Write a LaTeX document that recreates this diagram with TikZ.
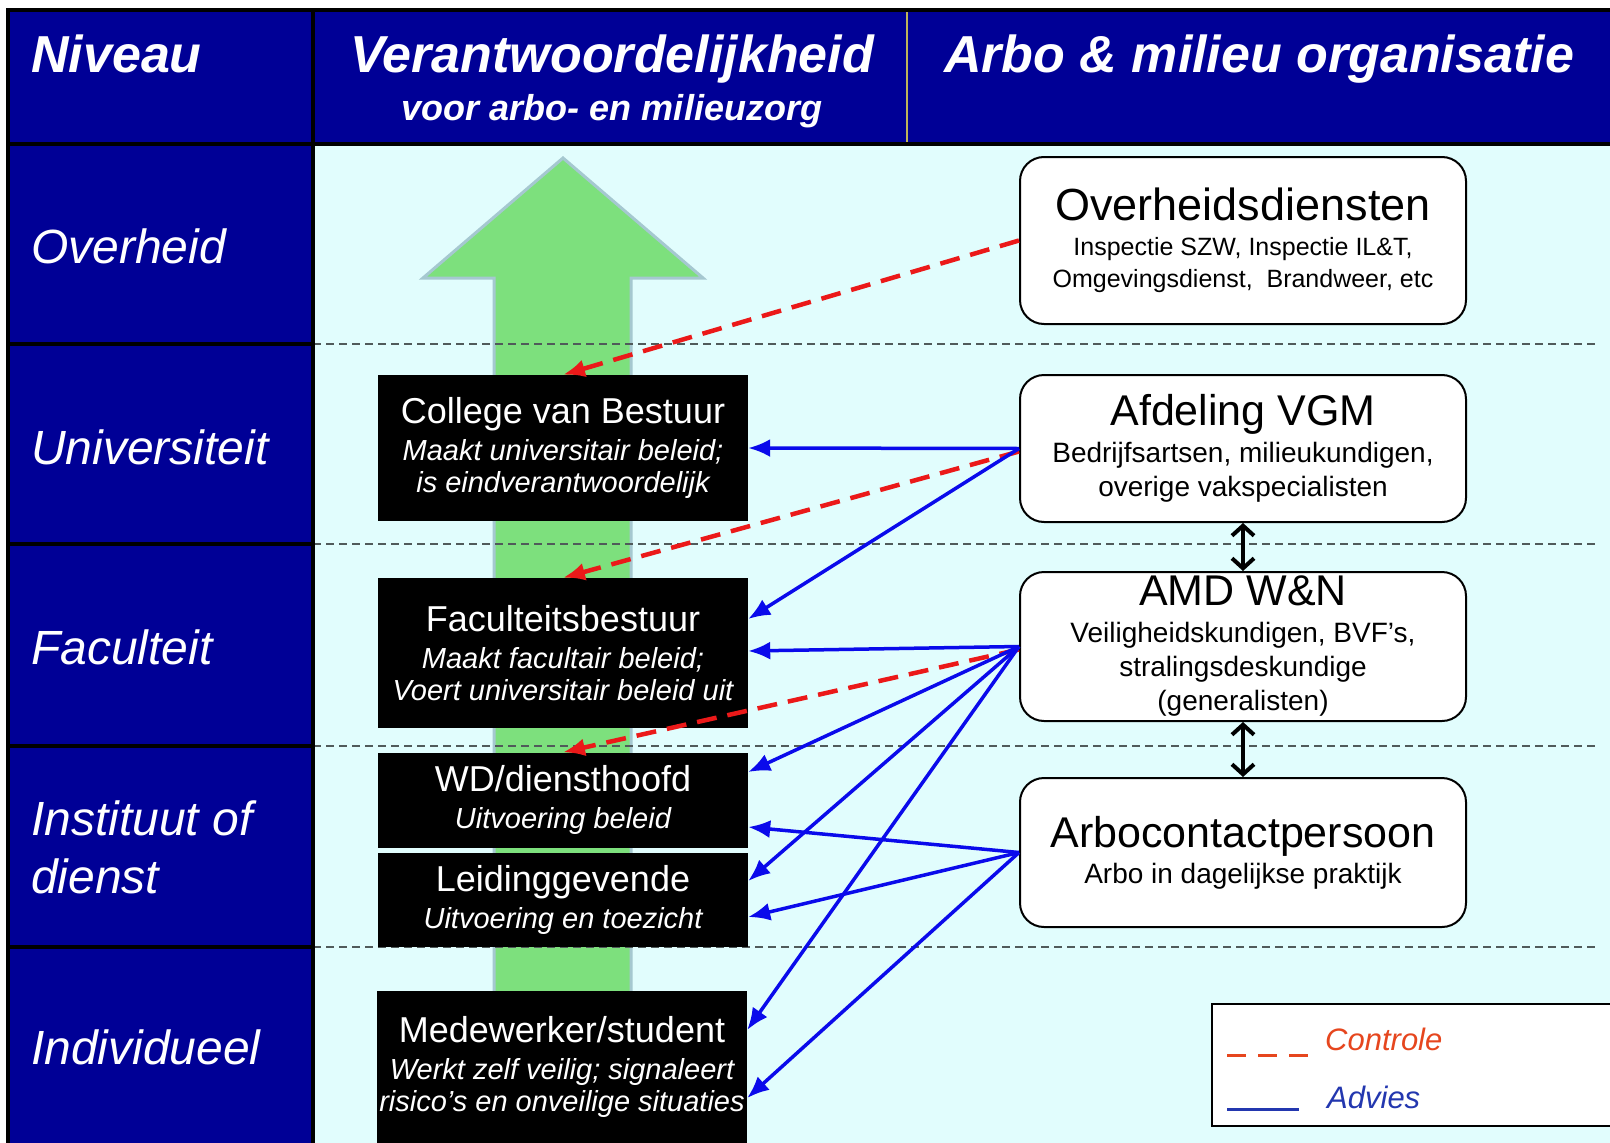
\documentclass[tikz,border=0pt]{standalone}
\usepackage{fontspec}
\setmainfont{Liberation Sans}
\usepackage{tikz}
\usetikzlibrary{arrows.meta,positioning,calc}
\definecolor{navyband}{RGB}{0,0,150}
\definecolor{paleground}{RGB}{225,253,253}
\definecolor{arrowgreen}{RGB}{125,224,125}
\definecolor{arrowedge}{RGB}{165,200,208}
\definecolor{controlred}{RGB}{235,25,25}
\definecolor{adviceblue}{RGB}{10,10,235}
\definecolor{levelgrey}{RGB}{80,90,90}
\definecolor{keyred}{RGB}{230,70,30}
\definecolor{keyblue}{RGB}{35,55,175}
\definecolor{dividergold}{RGB}{190,180,90}
\newcommand{\headsize}{\fontsize{52}{58}\selectfont}
\newcommand{\roletitle}{\upshape\fontsize{36}{40}\selectfont}
\newcommand{\orgtitle}{\fontsize{43}{48}\selectfont}
\tikzset{
  frameline/.style={draw=black,line width=4pt},
  levelline/.style={draw=levelgrey,line width=1.5pt,dash pattern=on 8pt off 5pt},
  uparrow/.style={fill=arrowgreen,draw=arrowedge,line width=3pt,line join=miter},
  headlabel/.style={text=white,font=\headsize\bfseries\itshape,inner sep=0pt,anchor=base},
  levellabel/.style={anchor=west,text=white,align=left,inner sep=0pt,
    font=\fontsize{48}{58}\selectfont\itshape},
  rolebox/.style={fill=black,text=white,align=center,minimum width=370pt,
    inner sep=0pt,font=\fontsize{29}{32}\selectfont\itshape},
  orgbox/.style={draw=black,line width=2pt,fill=white,rounded corners=24pt,
    minimum width=446pt,inner sep=0pt,align=center},
  controlarrow/.style={draw=controlred,line width=4.5pt,dash pattern=on 20pt off 11pt,
    -{Latex[length=22pt,width=18pt]}},
  advicearrow/.style={draw=adviceblue,line width=3.5pt,-{Latex[length=22pt,width=18pt]}},
  linkarrow/.style={draw=black,line width=4pt,
    {Straight Barb[length=10pt,width=22pt]}-{Straight Barb[length=10pt,width=22pt]}},
  legendbox/.style={draw=black,line width=1.5pt,fill=white,minimum width=408pt,
    minimum height=122pt,inner sep=0pt},
  keylabel/.style={anchor=west,inner sep=0pt,font=\fontsize{31}{36}\selectfont\itshape}
}

\begin{document}
\begin{tikzpicture}[x=1pt,y=-1pt]
  \useasboundingbox (0,0) rectangle (1610,1143);
  \fill[white] (0,0) rectangle (1610,1143);
  \fill[paleground] (313,144) rectangle (1610,1143);
  \draw[uparrow] (563,158) -- (703,278) -- (631,278) -- (631,1000) -- (494,1000) -- (494,278) -- (423,278) -- cycle;
  \draw[levelline] (313,344) -- (1597,344);
  \draw[levelline] (313,544) -- (1597,544);
  \draw[levelline] (313,746) -- (1597,746);
  \draw[levelline] (313,947) -- (1597,947);
  \fill[navyband] (8,10) rectangle (1610,144);
  \fill[navyband] (8,144) rectangle (313,1143);
  \draw[dividergold,line width=1.5pt] (907,12) -- (907,142);
  \draw[frameline] (1610,10) -- (8,10) -- (8,1143);
  \draw[frameline] (8,144) -- (1610,144);
  \draw[frameline] (313,10) -- (313,1143);
  \draw[frameline] (8,344) -- (313,344);
  \draw[frameline] (8,544) -- (313,544);
  \draw[frameline] (8,746) -- (313,746);
  \draw[frameline] (8,947) -- (313,947);
  \node[headlabel,anchor=base west] (niveauhead) at (31,72) {Niveau};
  \node[headlabel] (verantwhead) at (612,72) {Verantwoordelijkheid};
  \node[headlabel,font=\fontsize{36}{40}\selectfont\bfseries\itshape] (verantwsub) at (612,120) {voor arbo- en milieuzorg};
  \node[headlabel] (orghead) at (1259,72) {Arbo \& milieu organisatie};
  \node[levellabel] (lvloverheid) at (31,246) {Overheid};
  \node[levellabel] (lvluniv) at (31,447) {Universiteit};
  \node[levellabel] (lvlfac) at (31,647) {Faculteit};
  \node[levellabel] (lvlinst) at (31,847) {Instituut of\\dienst};
  \node[levellabel] (lvlindiv) at (31,1047) {Individueel};
  \node[rolebox,minimum height=146pt] (cvb) at (563,448) {{\roletitle College van Bestuur}\\[5pt]Maakt universitair beleid;\\is eindverantwoordelijk};
  \node[rolebox,minimum height=150pt] (fb) at (563,653) {{\roletitle Faculteitsbestuur}\\[5pt]Maakt facultair beleid;\\Voert universitair beleid uit};
  \node[rolebox,minimum height=95pt] (wd) at (563,800) {{\roletitle WD/diensthoofd}\\[5pt]Uitvoering beleid};
  \node[rolebox,minimum height=94pt] (lg) at (563,900) {{\roletitle Leidinggevende}\\[5pt]Uitvoering en toezicht};
  \node[rolebox,minimum height=152pt] (mw) at (562,1067) {{\roletitle Medewerker/student}\\[5pt]Werkt zelf veilig; signaleert\\risico’s en onveilige situaties};
  \node[orgbox,minimum height=167pt,font=\fontsize{25}{32}\selectfont] (ovd) at (1243,240.5) {{\fontsize{45}{50}\selectfont Overheidsdiensten}\\[3pt]Inspectie SZW, Inspectie IL\&T,\\Omgevingsdienst, \ Brandweer, etc};
  \node[orgbox,minimum height=147pt,font=\fontsize{28}{34}\selectfont] (vgm) at (1243,448.5) {{\orgtitle Afdeling VGM}\\[3pt]Bedrijfsartsen, milieukundigen,\\overige vakspecialisten};
  \node[orgbox,minimum height=149pt,font=\fontsize{28}{34}\selectfont] (amd) at (1243,646.5) {{\orgtitle AMD W\&N}\\[3pt]Veiligheidskundigen, BVF’s,\\stralingsdeskundige\\(generalisten)};
  \node[orgbox,minimum height=149pt,font=\fontsize{28}{34}\selectfont] (acp) at (1243,852.5) {{\orgtitle Arbocontactpersoon}\\[2pt]Arbo in dagelijkse praktijk};
  \draw[linkarrow] (vgm.south) -- (amd.north);
  \draw[linkarrow] (amd.south) -- (acp.north);
  \draw[controlarrow] (ovd.west) -- (cvb.north);
  \draw[controlarrow] ([yshift=-3pt]vgm.west) -- (fb.north);
  \draw[controlarrow] ([yshift=-3pt]amd.west) -- (wd.north);
  \draw[advicearrow] (vgm.west) -- (cvb.east);
  \draw[advicearrow] (vgm.west) -- ([yshift=34pt]fb.east);
  \draw[advicearrow] (amd.west) -- ([yshift=2pt]fb.east);
  \draw[advicearrow] (amd.west) -- ([yshift=28pt]wd.east);
  \draw[advicearrow] (amd.west) -- ([yshift=19pt]lg.east);
  \draw[advicearrow] (amd.west) -- ([yshift=37pt]mw.east);
  \draw[advicearrow] (acp.west) -- ([yshift=-27pt]wd.east);
  \draw[advicearrow] (acp.west) -- ([yshift=-17pt]lg.east);
  \draw[advicearrow] (acp.west) -- ([yshift=-31pt]mw.east);
  \node[legendbox] (legend) at (1416,1065) {};
  \node[keylabel,text=keyred] (ctrlkey) at (1325,1039) {Controle};
  \node[keylabel,text=keyblue] (advkey) at (1327,1097) {Advies};
  \draw[keyred,line width=3pt,dash pattern=on 19pt off 12pt] (1227,1055) -- (1309,1055);
  \draw[keyblue,line width=3pt] (1227,1109) -- (1299,1109);
\end{tikzpicture}
\end{document}
